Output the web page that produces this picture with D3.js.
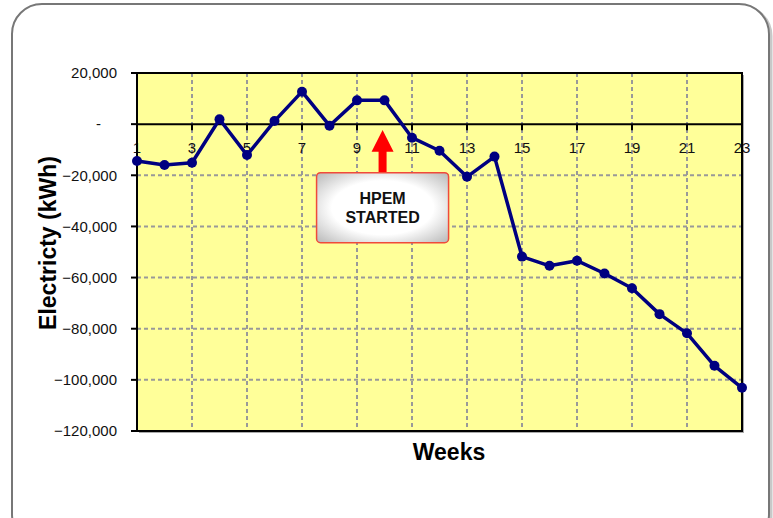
<!DOCTYPE html>
<html>
<head>
<meta charset="utf-8">
<script src="https://cdn.jsdelivr.net/npm/d3@7"></script>
<style>
  body { margin: 0; background: #fff; }
  svg { display: block; font-family: Arial, "Liberation Sans", sans-serif; }
</style>
</head>
<body>
<svg id="chart" width="773" height="518"></svg>
<script>
// weekly electricity difference (kWh)
const weeks = d3.range(1, 24);
const electricity = [-14400, -16000, -15100, 1900, -12100, 1200, 12700, -600, 9300, 9300,
    -5300, -10400, -20600, -12700, -51800, -55400, -53400, -58400, -64200, -74300,
    -81800, -94500, -103100];
const yTicks = [20000, 0, -20000, -40000, -60000, -80000, -100000, -120000];
const xTicks = [1, 3, 5, 7, 9, 11, 13, 15, 17, 19, 21, 23];
const noteWeek = 9.93;
const noteLines = ["HPEM", "STARTED"];

const svg = d3.select("#chart");
const margin = { left: 137, top: 73, right: 773 - 742, bottom: 518 - 431 };
const width = 773 - margin.left - margin.right;
const height = 518 - margin.top - margin.bottom;

const x = d3.scaleLinear().domain([1, 23]).range([0, width]);
const y = d3.scaleLinear().domain([-120000, 20000]).range([height, 0]);

const defs = svg.append("defs");
const grad = defs.append("radialGradient").attr("id", "boxFill")
    .attr("cx", "50%").attr("cy", "50%").attr("r", "70%");
grad.append("stop").attr("offset", "55%").attr("stop-color", "#ffffff");
grad.append("stop").attr("offset", "100%").attr("stop-color", "#b8b8b8");

// outer rounded frame with a light shadow
svg.append("rect")
    .attr("x", 14).attr("y", 6).attr("width", 757).attr("height", 540)
    .attr("rx", 30).attr("fill", "none").attr("stroke", "#c8c8c8").attr("stroke-width", 3);
svg.append("rect")
    .attr("x", 12).attr("y", 4).attr("width", 757).attr("height", 540)
    .attr("rx", 30).attr("fill", "#fff").attr("stroke", "#777").attr("stroke-width", 2);

const g = svg.append("g").attr("transform", `translate(${margin.left},${margin.top})`);

// plot area
g.append("rect")
    .attr("x", 2).attr("y", 2).attr("width", width).attr("height", height)
    .attr("fill", "#555").attr("opacity", 0.5);
g.append("rect")
    .attr("width", width).attr("height", height)
    .attr("fill", "#ffff99");

// gridlines
g.selectAll(".hgrid")
    .data(yTicks.filter(d => d !== 0 && d !== 20000 && d !== -120000))
    .enter().append("line")
    .attr("x1", 0).attr("x2", width)
    .attr("y1", d => y(d)).attr("y2", d => y(d))
    .attr("stroke", "#999").attr("stroke-width", 2).attr("stroke-dasharray", "4,3");

g.selectAll(".vgrid")
    .data(xTicks.filter(d => d !== 1 && d !== 23))
    .enter().append("line")
    .attr("x1", d => x(d)).attr("x2", d => x(d))
    .attr("y1", 0).attr("y2", height)
    .attr("stroke", "#999").attr("stroke-width", 2).attr("stroke-dasharray", "4,3");

// x tick labels sit under the zero line
g.selectAll(".xlab")
    .data(xTicks)
    .enter().append("text")
    .attr("x", d => x(d)).attr("y", y(0) + 29)
    .attr("text-anchor", "middle")
    .attr("font-size", 15).attr("fill", "#111")
    .text(d => d);

// border
g.append("rect")
    .attr("width", width).attr("height", height)
    .attr("fill", "none").attr("stroke", "#000").attr("stroke-width", 2);

// y axis ticks + labels
g.selectAll(".ytick")
    .data(yTicks)
    .enter().append("line")
    .attr("x1", -6).attr("x2", 0)
    .attr("y1", d => y(d)).attr("y2", d => y(d))
    .attr("stroke", "#000").attr("stroke-width", 2);

g.selectAll(".ylab")
    .data(yTicks)
    .enter().append("text")
    .attr("x", d => d === 0 ? -36 : -20)
    .attr("y", d => y(d))
    .attr("dy", "0.35em")
    .attr("text-anchor", "end")
    .attr("font-size", 15).attr("fill", "#111")
    .text(d => d === 0 ? "-" : d3.format(",")(d));

// zero line with ticks
g.append("line")
    .attr("x1", 0).attr("x2", width)
    .attr("y1", y(0)).attr("y2", y(0))
    .attr("stroke", "#000").attr("stroke-width", 2);

g.selectAll(".xtick")
    .data(xTicks)
    .enter().append("line")
    .attr("x1", d => x(d)).attr("x2", d => x(d))
    .attr("y1", y(0)).attr("y2", y(0) + 6)
    .attr("stroke", "#000").attr("stroke-width", 2);

// series
const pts = weeks.map((w, i) => [w, electricity[i]]);
g.append("path")
    .datum(pts)
    .attr("fill", "none")
    .attr("stroke", "#000080").attr("stroke-width", 3.5)
    .attr("stroke-linejoin", "round")
    .attr("d", d3.line().x(d => x(d[0])).y(d => y(d[1])));

g.selectAll(".pt")
    .data(pts)
    .enter().append("circle")
    .attr("cx", d => x(d[0])).attr("cy", d => y(d[1]))
    .attr("r", 5).attr("fill", "#000080");

// annotation: arrow + box
const ax = x(noteWeek);
const boxTop = y(-19000);
g.append("path")
    .attr("d", `M${ax - 4},${boxTop} L${ax - 4},${y(-10800)} L${ax - 11},${y(-10800)} L${ax},${y(-2300)} L${ax + 11},${y(-10800)} L${ax + 4},${y(-10800)} L${ax + 4},${boxTop} Z`)
    .attr("fill", "#ff0000");

g.append("rect")
    .attr("x", ax - 66).attr("y", boxTop)
    .attr("width", 132).attr("height", 70)
    .attr("rx", 4)
    .attr("fill", "url(#boxFill)")
    .attr("stroke", "#f04a3a").attr("stroke-width", 1.5);

g.selectAll(".note")
    .data(noteLines)
    .enter().append("text")
    .attr("x", ax)
    .attr("y", (d, i) => boxTop + 31 + i * 19.5)
    .attr("text-anchor", "middle")
    .attr("font-size", 16).attr("font-weight", "bold").attr("fill", "#111")
    .text(d => d);

// axis titles
svg.append("text")
    .attr("transform", `translate(56,243) rotate(-90)`)
    .attr("text-anchor", "middle")
    .attr("font-size", 23).attr("font-weight", "bold")
    .text("Electricty (kWh)");

svg.append("text")
    .attr("x", 449).attr("y", 460)
    .attr("text-anchor", "middle")
    .attr("font-size", 23).attr("font-weight", "bold")
    .text("Weeks");
</script>
</body>
</html>
